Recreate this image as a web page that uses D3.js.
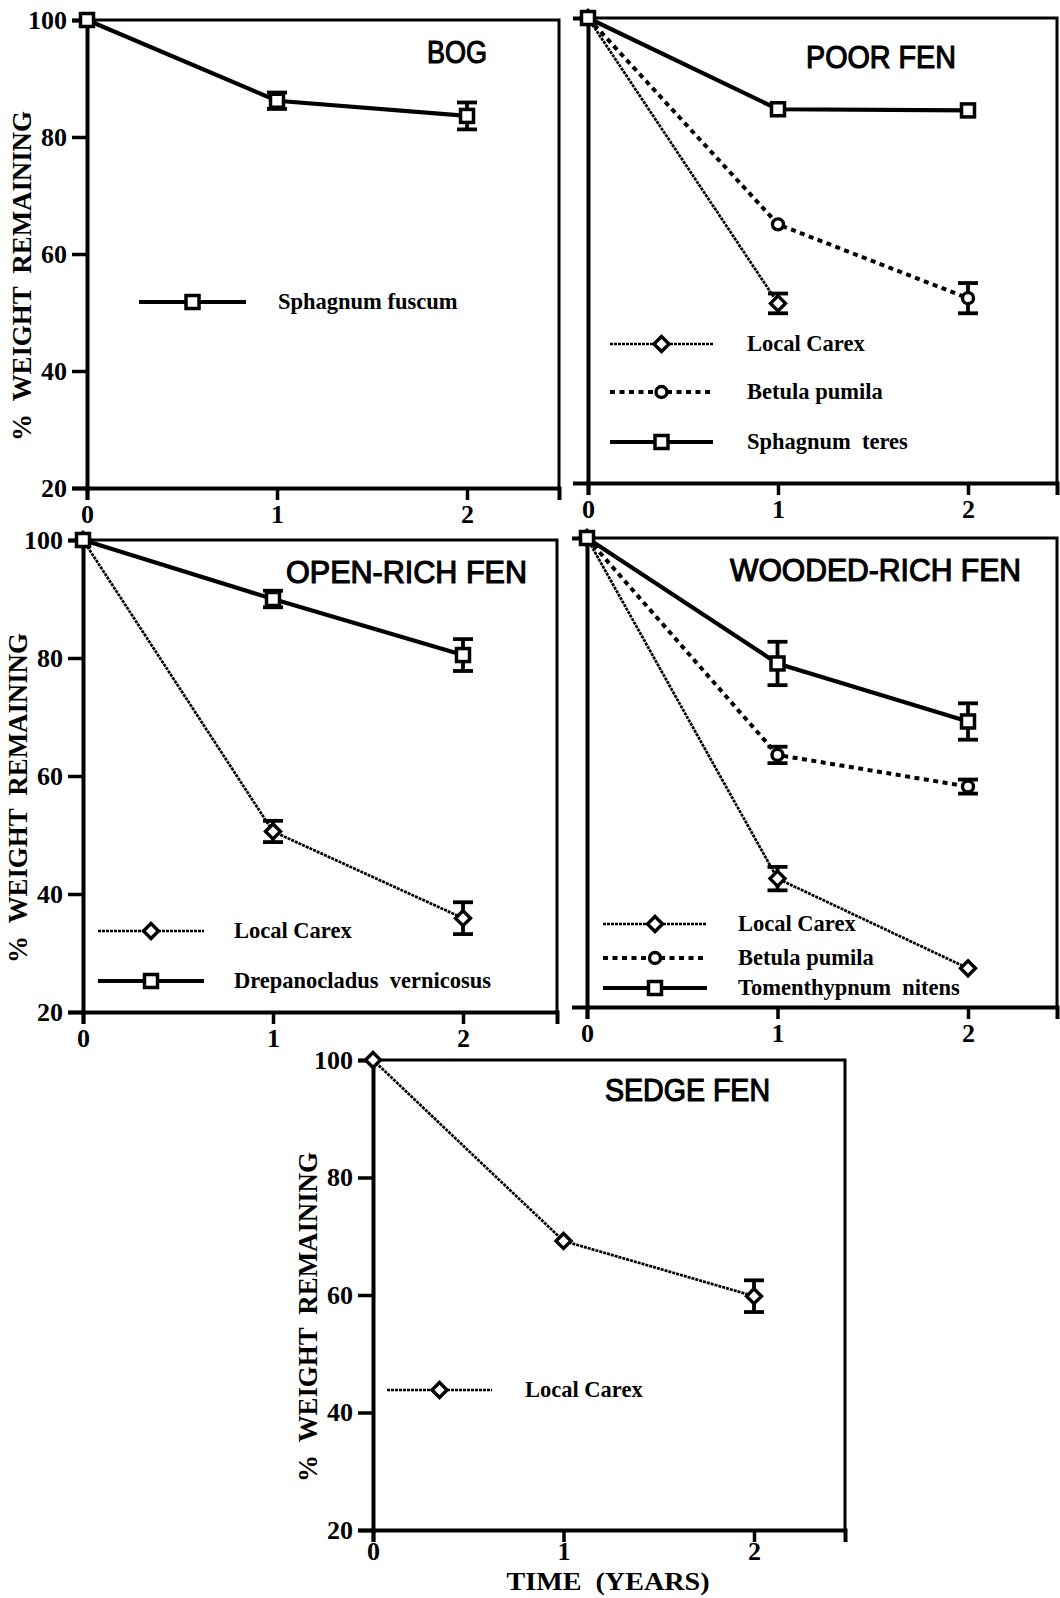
<!DOCTYPE html>
<html>
<head>
<meta charset="utf-8">
<script src="https://cdn.jsdelivr.net/npm/d3@7"></script>
<style>
  body { margin: 0; background: #fff; }
  .tick text { font-family: "Liberation Serif", "Times New Roman", serif; font-weight: bold; font-size: 26px; fill: #000; }
  .legend text { font-family: "Liberation Serif", "Times New Roman", serif; font-weight: bold; font-size: 22.5px; }
</style>
</head>
<body>
<div id="chart"></div>
<script>
// time axis and y ticks
var years = [0, 1, 2];
var xTicks = [0, 1, 2];
var yTicks = [20, 40, 60, 80, 100];

// BOG
var bogFuscum = [100, 86.2, 83.6];
var bogFuscumErr = [0, 1.4, 2.3];

// POOR FEN
var poorCarex = [100, 50.9];
var poorCarexErr = [0, 1.7];
var poorBetula = [100, 64.5, 51.8];
var poorBetulaErr = [0, 0.4, 2.6];
var poorTeres = [100, 84.3, 84.1];
var poorTeresErr = [0, 0, 0];

// OPEN-RICH FEN
var openCarex = [100, 50.6, 35.9];
var openCarexErr = [0, 1.8, 2.7];
var openDrepano = [100, 90.0, 80.5];
var openDrepanoErr = [0, 1.4, 2.7];

// WOODED-RICH FEN
var woodCarex = [100, 41.9, 26.6];
var woodCarexErr = [0, 2.0, 0.4];
var woodBetula = [100, 63.0, 57.6];
var woodBetulaErr = [0, 1.4, 1.2];
var woodNitens = [100, 78.6, 68.7];
var woodNitensErr = [0, 3.7, 3.1];

// SEDGE FEN
var sedgeCarex = [100, 69.2, 59.8];
var sedgeCarexErr = [0, 0.4, 2.7];

var styles = {
  carex:  { width: 2.7, dash: '3,1', marker: 'diamond' },
  betula: { width: 4,   dash: '5,4.5', marker: 'circle' },
  moss:   { width: 4.2, dash: null,    marker: 'square' }
};

var panels = [
  { title: 'BOG', box: { left: 87, right: 559, x2: 467, top: 20, bottom: 488 }, yLab: true, xPad: 5,
    titlePos: [427, 63, 60],
    legend: { x1: 139, x2: 246, tx: 278, ys: [302] },
    series: [
      { name: 'Sphagnum fuscum', style: 'moss', v: bogFuscum, e: bogFuscumErr }
    ] },
  { title: 'POOR FEN', box: { left: 588, right: 1057, x2: 968, top: 18, bottom: 483 }, yLab: false, xPad: 5,
    titlePos: [806, 68, 150],
    legend: { x1: 610, x2: 713, tx: 747, ys: [344, 392, 442] },
    series: [
      { name: 'Local Carex', style: 'carex', v: poorCarex, e: poorCarexErr },
      { name: 'Betula pumila', style: 'betula', v: poorBetula, e: poorBetulaErr },
      { name: 'Sphagnum  teres', style: 'moss', v: poorTeres, e: poorTeresErr }
    ] },
  { title: 'OPEN-RICH FEN', box: { left: 83, right: 557, x2: 463, top: 540, bottom: 1012 }, yLab: true, xPad: 5,
    titlePos: [286, 583, 241],
    legend: { x1: 98, x2: 204, tx: 234, ys: [931, 981] },
    series: [
      { name: 'Local Carex', style: 'carex', v: openCarex, e: openCarexErr },
      { name: 'Drepanocladus  vernicosus', style: 'moss', v: openDrepano, e: openDrepanoErr }
    ] },
  { title: 'WOODED-RICH FEN', box: { left: 587, right: 1057, x2: 968, top: 538, bottom: 1007 }, yLab: false, xPad: 5,
    titlePos: [730, 581, 291],
    legend: { x1: 603, x2: 707, tx: 738, ys: [924, 958, 988] },
    series: [
      { name: 'Local Carex', style: 'carex', v: woodCarex, e: woodCarexErr },
      { name: 'Betula pumila', style: 'betula', v: woodBetula, e: woodBetulaErr },
      { name: 'Tomenthypnum  nitens', style: 'moss', v: woodNitens, e: woodNitensErr }
    ] },
  { title: 'SEDGE FEN', box: { left: 373, right: 845, x2: 754, top: 1060, bottom: 1530 }, yLab: true, xPad: 0,
    titlePos: [605, 1101, 165],
    legend: { x1: 387, x2: 492, tx: 525, ys: [1390] },
    series: [
      { name: 'Local Carex', style: 'carex', v: sedgeCarex, e: sedgeCarexErr }
    ] }
];

var svg = d3.select('#chart').append('svg')
  .attr('width', 1060)
  .attr('height', 1598)
  .style('background', '#fff');

function drawMarker(g, type, cx, cy) {
  if (type == 'square') {
    g.append('rect').attr('x', cx - 6.5).attr('y', cy - 6.5).attr('width', 13).attr('height', 13)
      .attr('fill', '#fff').attr('stroke', '#000').attr('stroke-width', 3.5);
  } else if (type == 'circle') {
    g.append('circle').attr('cx', cx).attr('cy', cy).attr('r', 5.5)
      .attr('fill', '#fff').attr('stroke', '#000').attr('stroke-width', 3.4);
  } else {
    var d = 7.5;
    g.append('path')
      .attr('d', 'M' + cx + ',' + (cy - d) + 'L' + (cx + d) + ',' + cy + 'L' + cx + ',' + (cy + d) + 'L' + (cx - d) + ',' + cy + 'Z')
      .attr('fill', '#fff').attr('stroke', '#000').attr('stroke-width', 3.4);
  }
}

panels.forEach(function(p) {
  var b = p.box;
  var xMax = (b.right - b.left) / (b.x2 - b.left) * 2;
  var x = d3.scaleLinear().domain([0, xMax]).range([b.left, b.right]);
  var y = d3.scaleLinear().domain([20, 100]).range([b.bottom, b.top]);
  var g = svg.append('g');

  // frame: top and right borders
  g.append('path')
    .attr('d', 'M' + b.left + ',' + y(100) + 'H' + b.right + 'V' + y(20))
    .attr('fill', 'none').attr('stroke', '#000').attr('stroke-width', 3);

  // axes
  var ya = d3.axisLeft(y).tickSizeOuter(0).tickSize(15).tickPadding(5)
    .tickValues(p.yLab ? yTicks : []);
  var yg = g.append('g').attr('transform', 'translate(' + b.left + ',0)').call(ya);
  var xa = d3.axisBottom(x).tickSizeOuter(0).tickSize(12).tickPadding(p.xPad).tickValues(xTicks)
    .tickFormat(d3.format('d'));
  var xg = g.append('g').attr('transform', 'translate(0,' + b.bottom + ')').call(xa);
  [yg, xg].forEach(function(a) {
    a.select('.domain').attr('stroke-width', 4);
    a.selectAll('.tick line').attr('stroke-width', 3.5);
  });

  // title
  g.append('text')
    .attr('x', p.titlePos[0]).attr('y', p.titlePos[1])
    .attr('textLength', p.titlePos[2]).attr('lengthAdjust', 'spacingAndGlyphs')
    .style('font-family', '"Liberation Sans", Arial, sans-serif')
    .style('font-size', '32px')
    .attr('stroke', '#000').attr('stroke-width', 1.2)
    .text(p.title);

  var line = d3.line()
    .x(function(d, i) { return x(years[i]); })
    .y(function(d) { return y(d); });

  // lines
  p.series.forEach(function(s) {
    var st = styles[s.style];
    g.append('path').datum(s.v)
      .attr('d', line)
      .attr('fill', 'none')
      .attr('stroke', '#000')
      .attr('stroke-width', st.width)
      .attr('stroke-dasharray', st.dash);
  });

  // error bars
  p.series.forEach(function(s) {
    s.v.forEach(function(v, i) {
      var e = s.e[i];
      if (!e || e < 0.8) return;
      var cx = x(years[i]);
      var eb = g.append('g').attr('stroke', '#000').attr('stroke-width', 3.8);
      eb.append('line').attr('x1', cx).attr('x2', cx).attr('y1', y(v - e)).attr('y2', y(v + e));
      eb.append('line').attr('x1', cx - 10).attr('x2', cx + 10).attr('y1', y(v - e)).attr('y2', y(v - e));
      eb.append('line').attr('x1', cx - 10).attr('x2', cx + 10).attr('y1', y(v + e)).attr('y2', y(v + e));
    });
  });

  // markers
  p.series.forEach(function(s) {
    s.v.forEach(function(v, i) {
      drawMarker(g, styles[s.style].marker, x(years[i]), y(v));
    });
  });

  // legend
  var lg = g.append('g').attr('class', 'legend');
  p.series.forEach(function(s, i) {
    var st = styles[s.style];
    var ly = p.legend.ys[i];
    lg.append('line')
      .attr('x1', p.legend.x1).attr('x2', p.legend.x2)
      .attr('y1', ly).attr('y2', ly)
      .attr('stroke', '#000')
      .attr('stroke-width', st.width)
      .attr('stroke-dasharray', st.dash);
    drawMarker(lg, st.marker, (p.legend.x1 + p.legend.x2) / 2, ly);
    lg.append('text')
      .attr('x', p.legend.tx).attr('y', ly + 7)
      .style('white-space', 'pre')
      .text(s.name);
  });

  // y axis title
  if (p.yLab) {
    var cy = (b.top + b.bottom) / 2 + 22;
    svg.append('text')
      .attr('transform', 'translate(' + (b.left - 56) + ',' + cy + ') rotate(-90)')
      .attr('text-anchor', 'middle')
      .attr('textLength', 330).attr('lengthAdjust', 'spacing')
      .style('font-family', '"Liberation Serif", "Times New Roman", serif')
      .style('font-weight', 'bold')
      .style('font-size', '27px')
      .style('white-space', 'pre')
      .text('%  WEIGHT  REMAINING');
  }
});

// x axis title under the sedge fen panel
svg.append('text')
  .attr('x', 608).attr('y', 1590)
  .attr('text-anchor', 'middle')
  .attr('textLength', 203).attr('lengthAdjust', 'spacingAndGlyphs')
  .style('font-family', '"Liberation Serif", "Times New Roman", serif')
  .style('font-weight', 'bold')
  .style('font-size', '26px')
  .style('white-space', 'pre')
  .text('TIME  (YEARS)');
</script>
</body>
</html>
